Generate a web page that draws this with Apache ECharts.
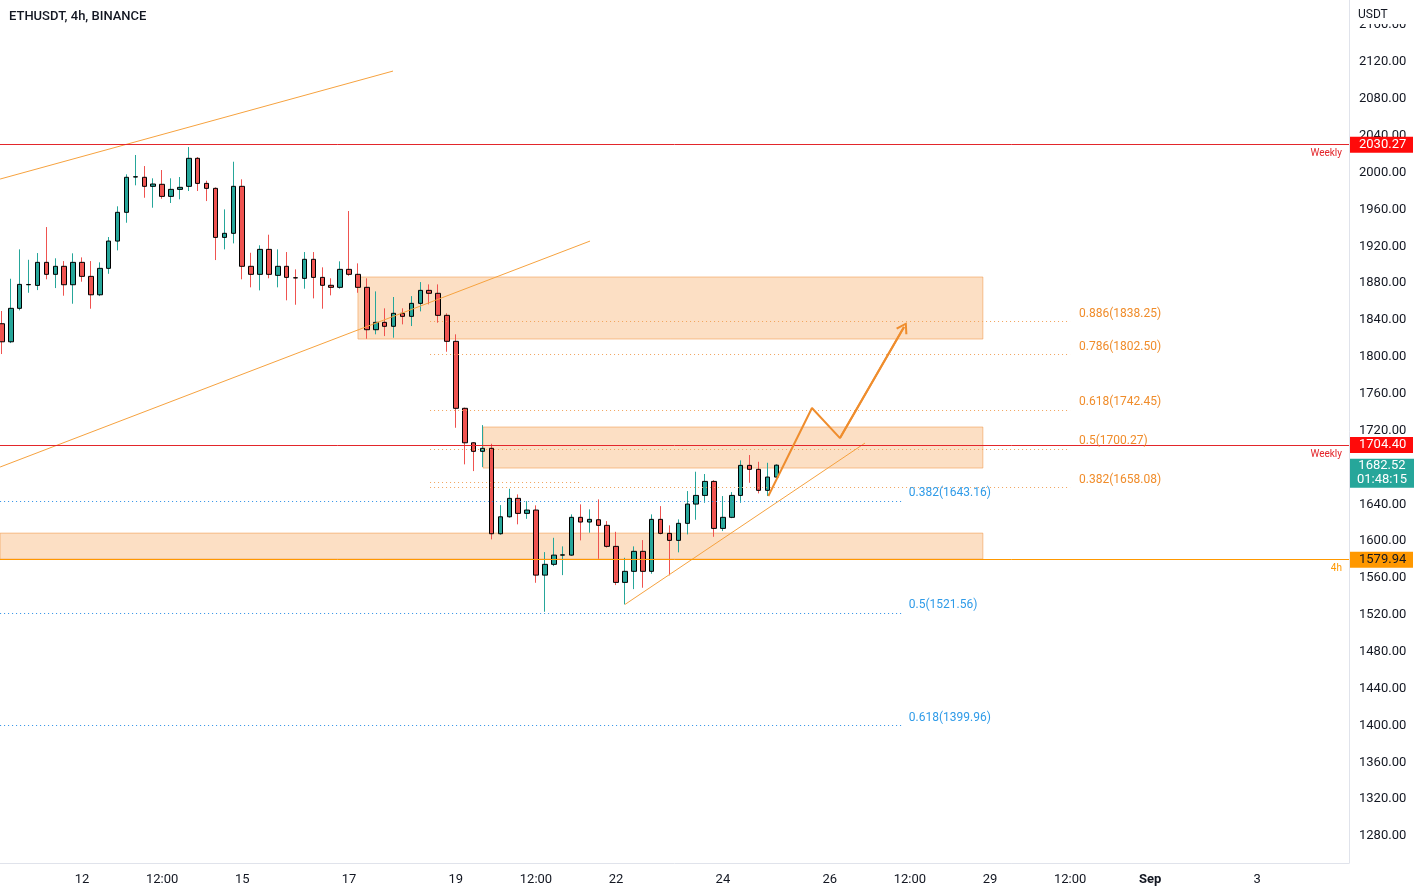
<!DOCTYPE html>
<html>
<head>
<meta charset="utf-8">
<title>ETHUSDT 4h</title>
<script src="https://cdn.jsdelivr.net/npm/echarts@6/dist/echarts.min.js"></script>
<style>
  html, body { margin: 0; padding: 0; background: #ffffff; }
  #chart { width: 1423px; height: 892px; }
</style>
</head>
<body>
<div id="chart"></div>
<script>
// x = candle number, 0 = Aug 12 00:00, one step = 4h
var candleIdx = [-9, -8, -7, -6, -5, -4, -3, -2, -1, 0, 1, 2, 3, 4, 5, 6, 7, 8, 9, 10,
  11, 12, 13, 14, 15, 16, 17, 18, 19, 20, 21, 22, 23, 24, 25, 26, 27, 28, 29, 30,
  31, 32, 33, 34, 35, 36, 37, 38, 39, 40, 41, 42, 43, 44, 45, 46, 47, 48, 49, 50,
  51, 52, 53, 54, 55, 56, 57, 58, 59, 60, 61, 62, 63, 64, 65, 66, 67, 68, 69, 70,
  71, 72, 73, 74, 75, 76, 77, 78];
var opens = [1836.0, 1816.4, 1852.7, 1878.3, 1877.6, 1902.6, 1889.6, 1898.3, 1878.3, 1902.6,
  1887.4, 1867.4, 1896.1, 1925.7, 1956.9, 1995.2, 1994.9, 1985.1, 1987.3, 1974.2,
  1981.8, 1985.1, 2015.5, 1988.3, 1982.9, 1929.7, 1934.1, 1985.1, 1898.3, 1889.6,
  1916.7, 1888.5, 1898.3, 1885.9, 1885.2, 1905.9, 1886.3, 1877.7, 1875.5, 1895.0,
  1889.6, 1875.5, 1829.5, 1837.5, 1833.2, 1847.3, 1844.0, 1858.1, 1872.2, 1869.0,
  1845.1, 1816.9, 1744.2, 1706.8, 1697.5, 1700.8, 1608.1, 1626.5, 1646.5, 1630.2,
  1633.8, 1563.2, 1574.9, 1584.9, 1584.9, 1625.9, 1620.8, 1623.3, 1617.2, 1594.4,
  1555.3, 1567.3, 1589.0, 1567.3, 1623.7, 1608.5, 1600.9, 1619.4, 1640.3, 1649.7,
  1664.9, 1613.9, 1625.9, 1649.7, 1682.3, 1678.0, 1655.2, 1669.6];
var closes = [1816.4, 1852.7, 1878.7, 1878.6, 1902.6, 1889.6, 1898.3, 1878.3, 1902.6, 1887.4,
  1867.4, 1896.1, 1925.7, 1956.9, 1994.9, 1995.5, 1985.1, 1987.6, 1974.2, 1981.8,
  1984.0, 2015.5, 1988.3, 1982.9, 1929.7, 1934.1, 1985.1, 1898.3, 1889.6, 1916.7,
  1889.6, 1898.3, 1886.3, 1885.7, 1905.9, 1886.3, 1877.7, 1875.5, 1895.0, 1889.6,
  1875.5, 1829.5, 1837.5, 1833.2, 1847.3, 1844.0, 1858.1, 1872.2, 1869.0, 1845.1,
  1816.9, 1744.2, 1706.8, 1697.5, 1700.8, 1608.1, 1626.5, 1646.5, 1630.2, 1633.8,
  1563.2, 1574.9, 1584.9, 1585.2, 1625.9, 1620.8, 1623.7, 1617.2, 1594.4, 1555.3,
  1567.3, 1589.0, 1567.3, 1623.7, 1608.5, 1600.9, 1619.4, 1640.3, 1649.7, 1664.9,
  1613.9, 1625.9, 1649.7, 1682.3, 1678.0, 1655.2, 1669.6, 1682.52];
var lows = [1803.1, 1815.0, 1850.5, 1869.6, 1872.5, 1884.2, 1874.7, 1866.4, 1857.7, 1881.6,
  1852.3, 1866.0, 1890.2, 1915.6, 1945.6, 1986.2, 1972.7, 1961.9, 1971.6, 1967.0,
  1971.0, 1980.0, 1980.0, 1969.1, 1905.1, 1916.7, 1923.2, 1884.2, 1875.5, 1872.2,
  1885.3, 1875.5, 1861.4, 1856.6, 1874.0, 1863.5, 1852.3, 1866.8, 1874.0, 1888.0,
  1869.6, 1819.7, 1824.5, 1822.6, 1820.8, 1835.3, 1833.5, 1849.4, 1857.0, 1837.1,
  1805.6, 1723.1, 1683.4, 1676.1, 1680.5, 1602.0, 1607.0, 1625.5, 1618.3, 1624.3,
  1554.9, 1523.4, 1573.0, 1563.2, 1584.0, 1600.9, 1609.2, 1580.9, 1593.0, 1552.4,
  1531.4, 1548.0, 1549.5, 1564.7, 1607.4, 1562.9, 1587.9, 1607.4, 1623.3, 1641.7,
  1604.8, 1611.0, 1625.0, 1641.7, 1663.4, 1651.9, 1649.0, 1669.0];
var highs = [1849.8, 1884.8, 1916.7, 1905.4, 1912.7, 1940.9, 1907.0, 1904.0, 1912.4, 1908.0,
  1904.0, 1902.6, 1930.1, 1963.4, 1998.1, 2019.1, 2007.1, 1993.8, 2002.8, 1993.8,
  1995.2, 2027.7, 2016.9, 1991.2, 1984.0, 1960.1, 2011.8, 1992.7, 1913.0, 1921.1,
  1932.6, 1916.7, 1913.8, 1895.0, 1913.8, 1913.8, 1897.2, 1885.3, 1903.7, 1958.3,
  1901.5, 1885.3, 1871.1, 1852.7, 1865.0, 1852.7, 1866.0, 1881.2, 1878.7, 1878.7,
  1847.3, 1824.5, 1745.0, 1707.5, 1726.0, 1705.7, 1639.2, 1656.9, 1650.8, 1643.5,
  1638.9, 1588.2, 1603.7, 1594.4, 1629.1, 1640.0, 1634.6, 1645.4, 1621.8, 1610.2,
  1582.0, 1594.4, 1601.2, 1629.1, 1638.1, 1617.2, 1623.7, 1654.4, 1675.4, 1672.9,
  1666.3, 1649.0, 1653.3, 1687.7, 1693.5, 1686.2, 1685.1, 1683.5];

var xTickIdx = [0, 9, 18, 30, 42, 51, 60, 72, 84, 93, 102, 111, 120, 132];
var xTickLabels = ['12', '12:00', '15', '17', '19', '12:00', '22', '24', '26', '12:00', '29', '12:00', 'Sep', '3'];
var yTicks = [1280, 1320, 1360, 1400, 1440, 1480, 1520, 1560, 1600, 1640, 1680, 1720,
  1760, 1800, 1840, 1880, 1920, 1960, 2000, 2040, 2080, 2120, 2160];

var weeklyLevels = [2030.27, 1704.40];
var h4Level = 1579.94;
var lastPrice = 1682.52;
var countdown = '01:48:15';

var fibOrangeRatios = ['0.886', '0.786', '0.618', '0.5', '0.382'];
var fibOrangePrices = [1838.25, 1802.50, 1742.45, 1700.27, 1658.08];
var fibOrangeFrom = 39.1, fibOrangeTo = 111.0;
// short unlabelled dotted level under the 0.5 line
var fibShort = [[39.1, 1664.5], [56.0, 1664.5]];
var fibBlueRatios = ['0.382', '0.5', '0.618'];
var fibBluePrices = [1643.16, 1521.56, 1399.96];
var fibBlueFrom = -9.2, fibBlueTo = 92.1;

// zones: [x from, top price, x to, bottom price]
var zones = [
  [31.0, 1886.7, 101.2, 1819.4],
  [45.05, 1723.9, 101.2, 1679.4],
  [-9.2, 1608.8, 101.2, 1580.6]
];
var trendLines = [
  [[-9.2, 1993.0], [34.94, 2110.2]],
  [[-9.2, 1680.5], [57.07, 1925.7]],
  [[61.0, 1531.4], [87.96, 1706.5]]
];
var projection = [[77.1, 1649.0], [82.0, 1744.5], [85.15, 1711.9], [92.34, 1832.4]];

var xMin = -9.211, xMax = 142.33;
var yMin = 1250.8, yMax = 2187.3;

var UP = '#26a69a', DOWN = '#ef5350';
var ORANGE = '#f6a23f', RED = '#e3262b', AMBER = '#ff9800';
var FIB_O = '#f2a35c', FIB_B = '#2a8ee6';

var candleData = [];
var bodyData = [];
for (var i = 0; i < candleIdx.length; i++) {
  candleData.push([candleIdx[i], opens[i], closes[i], lows[i], highs[i]]);
  bodyData.push([candleIdx[i], opens[i], closes[i],
    Math.min(opens[i], closes[i]), Math.max(opens[i], closes[i])]);
}

function fibPairs(ratios, prices, from, to) {
  return prices.map(function (p, k) {
    return [{ name: ratios[k] + '(' + p.toFixed(2) + ')', coord: [from, p] }, { coord: [to, p] }];
  });
}

// a host series that only carries markers
function host(name, color, z, extra) {
  var s = { name: name, type: 'line', data: [], z: z, color: color, silent: true };
  for (var k in extra) s[k] = extra[k];
  return s;
}

function fibSeries(name, color, textColor, dist, pairs) {
  return host(name, color, 5, {
    markLine: {
      silent: true, symbol: ['none', 'none'],
      lineStyle: { color: color, width: 1, type: [1, 3] },
      label: {
        show: true, position: 'end', distance: dist,
        verticalAlign: 'bottom', padding: [0, 0, 2, 0],
        formatter: '{b}', color: textColor, fontSize: 12
      },
      data: pairs
    }
  });
}

function levelSeries(name, color, prices, tagBg, tagColor) {
  return host(name, color, 5, {
    markLine: {
      silent: true, symbol: ['none', 'none'],
      lineStyle: { color: color, width: 1, type: 'solid' },
      label: {
        show: true, position: 'end', distance: 1,
        formatter: function (p) { return Number(p.value).toFixed(2); },
        backgroundColor: tagBg, color: tagColor,
        fontSize: 13, padding: [2, 4, 1, 9], width: 50
      },
      data: prices.map(function (p) { return { yAxis: p }; })
    }
  });
}

function captionSeries(name, color, prices, text) {
  return host(name, color, 5, {
    markLine: {
      silent: true, symbol: ['none', 'none'],
      lineStyle: { color: 'rgba(255,255,255,0)', width: 1, type: 'solid' },
      label: {
        show: true, position: 'insideEndBottom', distance: [7, 4],
        formatter: text, color: color, fontSize: 10
      },
      data: prices.map(function (p) { return { yAxis: p }; })
    }
  });
}

var chevron = 'path://M5 0 L10 9 L8.6 9.9 L5 3.2 L1.4 9.9 L0 9 Z';

var chart = echarts.init(document.getElementById('chart'));
var option = {
  animation: false,
  backgroundColor: '#ffffff',
  textStyle: { fontFamily: 'Roboto, sans-serif' },
  title: [{
    text: 'ETHUSDT, 4h, BINANCE',
    left: 9, top: 10, padding: 0,
    textStyle: { fontSize: 13, fontWeight: 500, color: '#131722' }
  }, {
    text: 'USDT',
    left: 1350, top: 0, padding: [9, 30, 3, 8],
    backgroundColor: '#ffffff',
    textStyle: { fontSize: 12, fontWeight: 'normal', color: '#131722' }
  }],
  grid: { left: 0, right: 74, top: 0, bottom: 29 },
  xAxis: {
    type: 'value', min: xMin, max: xMax,
    axisLine: { show: true, onZero: false, lineStyle: { color: '#e0e3eb' } },
    axisTick: { show: false },
    splitLine: { show: false },
    axisLabel: {
      customValues: xTickIdx,
      margin: 10,
      color: '#131722', fontSize: 13,
      formatter: function (v) {
        var k = xTickIdx.indexOf(Math.round(v));
        if (k < 0) return '';
        var s = xTickLabels[k];
        return s === 'Sep' ? '{b|' + s + '}' : s;
      },
      rich: { b: { fontWeight: 'bold', fontSize: 13, color: '#131722' } }
    }
  },
  yAxis: {
    type: 'value', position: 'right', min: yMin, max: yMax,
    axisLine: { show: true, onZero: false, lineStyle: { color: '#e0e3eb' } },
    axisTick: { show: false },
    splitLine: { show: false },
    axisLabel: {
      customValues: yTicks,
      margin: 10,
      color: '#131722', fontSize: 13,
      formatter: function (v) { return v.toFixed(2); }
    }
  },
  series: [
    host('zones', ORANGE, 1, {
      markArea: {
        silent: true,
        itemStyle: { color: 'rgba(244,150,60,0.30)', borderColor: 'rgba(240,150,70,0.55)', borderWidth: 1 },
        data: zones.map(function (z) { return [{ coord: [z[0], z[1]] }, { coord: [z[2], z[3]] }]; })
      }
    }),
    {
      name: 'wicks', type: 'candlestick', z: 3, barWidth: 1,
      encode: { x: 0, y: [1, 2, 3, 4] },
      itemStyle: { color: UP, color0: DOWN, borderColor: UP, borderColor0: DOWN, borderWidth: 1 },
      data: candleData
    },
    {
      name: 'bodies', type: 'candlestick', z: 4, barWidth: 5,
      encode: { x: 0, y: [1, 2, 3, 4] },
      itemStyle: { color: UP, color0: DOWN, borderColor: '#000000', borderColor0: '#000000', borderWidth: 1 },
      data: bodyData
    },
    host('trend', ORANGE, 5, {
      markLine: {
        silent: true, symbol: ['none', 'none'],
        lineStyle: { color: ORANGE, width: 1, type: 'solid' },
        label: { show: false },
        data: trendLines.map(function (t) { return [{ coord: t[0] }, { coord: t[1] }]; })
      }
    }),
    fibSeries('fibOrange', FIB_O, '#f08c2a', 9, fibPairs(fibOrangeRatios, fibOrangePrices, fibOrangeFrom, fibOrangeTo)),
    host('fibShort', FIB_O, 5, {
      markLine: {
        silent: true, symbol: ['none', 'none'],
        lineStyle: { color: FIB_O, width: 1, type: [1, 3] },
        label: { show: false },
        data: [[{ coord: fibShort[0] }, { coord: fibShort[1] }]]
      }
    }),
    fibSeries('fibBlue', FIB_B, '#2f9be8', 7, fibPairs(fibBlueRatios, fibBluePrices, fibBlueFrom, fibBlueTo)),
    levelSeries('weekly', RED, weeklyLevels, '#ff0a0a', '#ffffff'),
    captionSeries('weeklyCaption', RED, weeklyLevels, 'Weekly'),
    levelSeries('h4', AMBER, [h4Level], AMBER, '#131722'),
    captionSeries('h4Caption', AMBER, [h4Level], '4h'),
    host('last', UP, 6, {
      markPoint: {
        silent: true,
        data: [{
          coord: [xMax, lastPrice],
          symbol: 'rect', symbolSize: [64, 29], symbolOffset: [33, 8],
          itemStyle: { color: UP },
          label: {
            show: true, position: 'inside',
            formatter: lastPrice.toFixed(2) + '\n' + countdown,
            color: '#ffffff', fontSize: 13, lineHeight: 14
          }
        }]
      }
    }),
    {
      name: 'projection', type: 'line', z: 6, silent: true,
      data: projection, symbol: 'none', color: '#ef8d2d',
      lineStyle: { color: '#ef8d2d', width: 2 },
      markLine: {
        silent: true,
        symbol: ['none', chevron], symbolSize: [13, 11],
        lineStyle: { color: '#ef8d2d', width: 2, type: 'solid' },
        label: { show: false },
        data: [[{ coord: projection[2] }, { coord: projection[3] }]]
      }
    }
  ]
};
chart.setOption(option);
</script>
</body>
</html>
